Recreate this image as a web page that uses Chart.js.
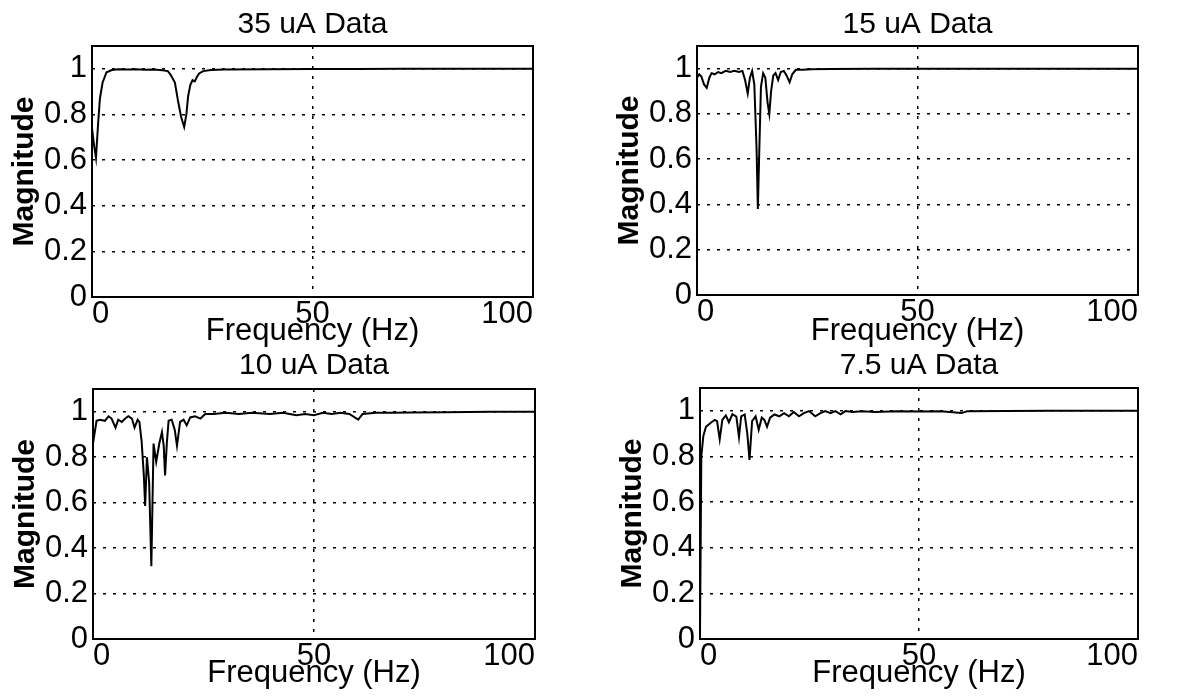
<!DOCTYPE html>
<html>
<head>
<meta charset="utf-8">
<script src="https://cdn.jsdelivr.net/npm/chart.js@4.4.0/dist/chart.umd.min.js"></script>
<style>
  html, body { margin: 0; padding: 0; background: #fff; }
  #fig { position: relative; width: 1181px; height: 698px; overflow: hidden; }
  #fig canvas { position: absolute; }
</style>
</head>
<body>
<div id="fig"></div>
<script>
// panel titles and axis ticks
const titles = ['35 uA Data', '15 uA Data', '10 uA Data', '7.5 uA Data'];
const xTicks = [0, 50, 100];
const yTicks = [0, 0.2, 0.4, 0.6, 0.8, 1];

// 35 uA
const freq35 = [0, 0.5, 0.9, 1.4, 1.8, 2.4, 3.3, 4.5, 6, 8, 10, 12, 14, 16, 17.2, 17.8, 18.8, 19.5, 20.2, 20.9, 21.4, 21.8, 22.3, 22.8, 23.3, 23.8, 24.3, 25.2, 27, 30, 40, 50, 60, 70, 80, 90, 100];
const mag35  = [0.74, 0.66, 0.61, 0.765, 0.87, 0.94, 0.985, 0.995, 0.998, 0.997, 0.998, 0.996, 0.997, 0.994, 0.99, 0.975, 0.94, 0.86, 0.79, 0.745, 0.80, 0.88, 0.93, 0.95, 0.945, 0.965, 0.98, 0.99, 0.995, 0.997, 0.998, 0.999, 0.999, 1, 1, 1, 1];

// 15 uA
const freq15 = [0, 0.5, 1.0, 1.6, 2.2, 2.8, 3.3, 4.0, 4.8, 5.5, 6.5, 7.5, 8.5, 9.5, 10.3, 10.9, 11.5, 12.0, 12.5, 13.0, 13.5, 13.8, 14.1, 14.5, 15.0, 15.5, 16.0, 16.4, 16.8, 17.3, 17.8, 18.4, 19.0, 19.7, 20.3, 21.0, 21.6, 22.4, 24, 26, 30, 40, 50, 60, 80, 100];
const mag15  = [0.96, 0.975, 0.965, 0.93, 0.915, 0.96, 0.98, 0.975, 0.985, 0.98, 0.99, 0.985, 0.99, 0.985, 0.99, 0.95, 0.89, 0.96, 0.99, 0.93, 0.65, 0.38, 0.62, 0.92, 0.98, 0.96, 0.85, 0.80, 0.90, 0.97, 0.98, 0.95, 0.985, 0.99, 0.97, 0.94, 0.975, 0.995, 0.995, 0.997, 0.998, 0.999, 1, 1, 1, 1];

// 10 uA
const freq10 = [0, 0.8, 1.6, 2.7, 3.5, 4.2, 5.1, 5.7, 6.5, 7.3, 8.0, 8.8, 9.4, 10.1, 10.5, 11.0, 11.5, 11.8, 12.2, 12.7, 13.2, 13.7, 14.3, 15.0, 15.6, 16.0, 16.3, 16.7, 17.1, 17.8, 18.5, 19.0, 19.7, 20.5, 21.2, 22.0, 23.1, 24.3, 25.4, 27.3, 30, 33, 36, 40, 43, 46, 48, 50, 52, 54, 56, 58, 60, 61, 64, 68, 72, 80, 90, 100];
const mag10  = [0.86, 0.96, 0.965, 0.96, 0.98, 0.97, 0.93, 0.965, 0.955, 0.97, 0.98, 0.97, 0.93, 0.965, 0.955, 0.87, 0.72, 0.585, 0.80, 0.69, 0.32, 0.86, 0.78, 0.86, 0.91, 0.85, 0.72, 0.86, 0.96, 0.965, 0.92, 0.85, 0.955, 0.965, 0.94, 0.975, 0.98, 0.97, 0.99, 0.99, 0.995, 0.99, 0.995, 0.99, 0.995, 0.985, 0.99, 0.985, 0.995, 0.99, 0.995, 0.99, 0.965, 0.99, 0.995, 0.995, 0.997, 0.998, 1, 1];

// 7.5 uA
const freq75 = [0, 0.3, 0.76, 1.36, 2.6, 3.4, 3.9, 4.5, 5.1, 5.9, 6.6, 7.4, 8.3, 8.9, 9.4, 10.2, 10.8, 11.3, 11.9, 12.7, 13.4, 14.1, 14.7, 15.3, 16.0, 17.0, 18.1, 19.2, 20.3, 21.4, 22.6, 23.7, 24.9, 26.3, 27.5, 28.6, 29.8, 30.9, 32.1, 33.2, 34.8, 37, 40, 45, 50, 55, 59.7, 61, 70, 80, 100];
const mag75  = [0.02, 0.80, 0.89, 0.93, 0.95, 0.96, 0.955, 0.875, 0.96, 0.98, 0.95, 0.985, 0.975, 0.885, 0.976, 0.984, 0.90, 0.785, 0.955, 0.976, 0.917, 0.97, 0.96, 0.93, 0.97, 0.984, 0.976, 0.99, 0.976, 0.995, 0.976, 0.99, 0.999, 0.976, 0.99, 0.999, 0.99, 0.999, 0.985, 0.999, 0.995, 0.998, 0.995, 0.998, 0.997, 0.998, 0.99, 0.998, 0.999, 1, 1];

const FONT = 'Liberation Sans, Arial, Helvetica, sans-serif';

// canvas placement for each subplot; topH = band above the plot that holds the title
const panels = [
  { freq: freq35, mag: mag35, title: titles[0], x: 0,   y: 0,   w: 580, h: 347, padRight: 47, topH: 46, t1: 10, xh: 50 },
  { freq: freq15, mag: mag15, title: titles[1], x: 605, y: 0,   w: 573, h: 347, padRight: 40, topH: 46, t1: 10, xh: 52 },
  { freq: freq10, mag: mag10, title: titles[2], x: 1,   y: 340, w: 574, h: 349, padRight: 40, topH: 49, t1: 11, xh: 50 },
  { freq: freq75, mag: mag75, title: titles[3], x: 608, y: 340, w: 570, h: 349, padRight: 40, topH: 48, t1: 11, xh: 50 }
];

// solid box around the plot area
const framePlugin = {
  id: 'frame',
  afterDraw(chart) {
    const { ctx, chartArea: a } = chart;
    ctx.save();
    ctx.strokeStyle = '#000';
    ctx.lineWidth = 2;
    ctx.setLineDash([]);
    ctx.strokeRect(a.left, a.top, a.right - a.left, a.bottom - a.top);
    ctx.restore();
  }
};

Chart.defaults.color = '#000';

const fig = document.getElementById('fig');

panels.forEach(p => {
  const canvas = document.createElement('canvas');
  canvas.width = p.w;
  canvas.height = p.h;
  canvas.style.left = p.x + 'px';
  canvas.style.top = p.y + 'px';
  canvas.style.width = p.w + 'px';
  canvas.style.height = p.h + 'px';
  fig.appendChild(canvas);

  const points = p.freq.map((f, i) => ({ x: f, y: p.mag[i] }));

  new Chart(canvas.getContext('2d'), {
    type: 'line',
    data: {
      datasets: [{
        data: points,
        xAxisID: 'x',
        yAxisID: 'y',
        borderColor: '#000',
        borderWidth: 2,
        pointRadius: 0,
        tension: 0,
        fill: false
      }]
    },
    options: {
      responsive: false,
      animation: false,
      devicePixelRatio: 1,
      layout: { padding: { left: 0, top: 0, right: p.padRight, bottom: 0 } },
      plugins: {
        legend: { display: false },
        tooltip: { enabled: false },
        title: { display: false }
      },
      scales: {
        x: {
          type: 'linear',
          min: 0,
          max: 100,
          afterBuildTicks: s => { s.ticks = xTicks.map(v => ({ value: v })); },
          afterFit: s => { s.height = p.xh; },
          ticks: {
            autoSkip: false,
            maxRotation: 0,
            align: 'inner',
            padding: 2,
            color: '#000',
            font: { family: FONT, size: 31, lineHeight: 1 },
            callback: v => String(v)
          },
          grid: { color: '#000', lineWidth: 1.5, drawTicks: false },
          border: { display: false, dash: [3, 7] },
          title: {
            display: true,
            text: 'Frequency (Hz)',
            color: '#000',
            font: { family: FONT, size: 31, lineHeight: 1 },
            padding: { top: 0, bottom: 0 }
          }
        },
        // top axis only carries the subplot title, centred over the plot
        top: {
          type: 'linear',
          position: 'top',
          min: 0,
          max: 100,
          afterFit: s => { s.height = p.topH; },
          ticks: { display: false },
          grid: { display: false },
          border: { display: false },
          title: {
            display: true,
            text: p.title,
            color: '#000',
            font: { family: FONT, size: 30, lineHeight: 1 },
            padding: { top: p.t1, bottom: 0 }
          }
        },
        y: {
          type: 'linear',
          min: 0,
          max: 1.1,
          afterBuildTicks: s => { s.ticks = yTicks.map(v => ({ value: v })); },
          afterFit: s => { s.width = 92; },
          ticks: {
            padding: 5,
            color: '#000',
            font: { family: FONT, size: 31, lineHeight: 1 },
            callback: v => String(+v.toFixed(1))
          },
          grid: { color: '#000', lineWidth: 1.5, drawTicks: false },
          border: { display: false, dash: [3, 7] },
          title: {
            display: true,
            text: 'Magnitude',
            color: '#000',
            font: { family: FONT, size: 30, weight: 'bold', lineHeight: 1 },
            padding: { top: 10, bottom: 0 }
          }
        }
      }
    },
    plugins: [framePlugin]
  });
});
</script>
</body>
</html>
